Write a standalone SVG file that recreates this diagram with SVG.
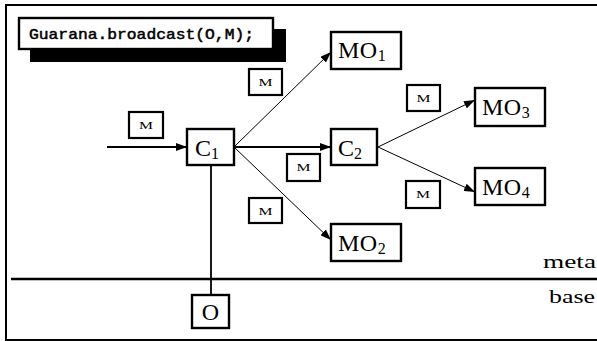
<svg xmlns="http://www.w3.org/2000/svg" width="597" height="341" viewBox="0 0 597 341">
<style>
.box{fill:#fff;stroke:#000;stroke-width:2.4}
.lbl{fill:#fff;stroke:#000;stroke-width:2.2}
.t{font-family:"Liberation Serif","DejaVu Serif",serif;fill:#000}
.big{font-size:24px}
.sub{font-size:16px}
.m{font-size:11px}
.thin{stroke:#000;stroke-width:1;fill:none}
.thick{stroke:#000;stroke-width:1.8;fill:none}
</style>
<defs>
<marker id="ah" markerUnits="userSpaceOnUse" markerWidth="12" markerHeight="8" refX="11" refY="4" orient="auto">
<path d="M0,0 L11,4 L0,8 z" fill="#000"/>
</marker>
</defs>
<rect x="6" y="5" width="600" height="335" fill="#fff" stroke="#000" stroke-width="2"/>
<line x1="11" y1="279" x2="597" y2="279" stroke="#000" stroke-width="2.6"/>
<text class="t" x="596" y="268" font-size="18" text-anchor="end" textLength="53" lengthAdjust="spacingAndGlyphs">meta</text>
<text class="t" x="595" y="303" font-size="18" text-anchor="end" textLength="46" lengthAdjust="spacingAndGlyphs">base</text>

<g id="code">
<rect x="30" y="29" width="256" height="33" fill="#000"/>
<rect class="box" x="19" y="18" width="254" height="31"/>
<text x="29" y="39" font-family="'Liberation Mono','DejaVu Sans Mono',monospace" font-size="15" stroke="#000" stroke-width="0.5" textLength="225" lengthAdjust="spacingAndGlyphs">Guarana.broadcast(O,M);</text>
</g>

<g id="connectors">
<line class="thick" x1="107" y1="147" x2="187" y2="147" marker-end="url(#ah)"/>
<line class="thick" x1="234" y1="147" x2="331" y2="147" marker-end="url(#ah)"/>
<line class="thin" x1="234" y1="147" x2="331" y2="52" marker-end="url(#ah)"/>
<line class="thin" x1="234" y1="147" x2="331" y2="240" marker-end="url(#ah)"/>
<line class="thin" x1="378" y1="147" x2="475" y2="100" marker-end="url(#ah)"/>
<line class="thin" x1="378" y1="147" x2="475" y2="192" marker-end="url(#ah)"/>
<line class="thick" x1="211" y1="165" x2="211" y2="295" stroke-width="2"/>
</g>

<g id="C1">
<rect class="box" x="187" y="129" width="47" height="36"/>
<text class="t big" x="195" y="156">C<tspan class="sub" dy="3">1</tspan></text>
</g>
<g id="C2">
<rect class="box" x="331" y="129" width="46" height="36"/>
<text class="t big" x="338" y="156">C<tspan class="sub" dy="3">2</tspan></text>
</g>
<g id="MO1">
<rect class="box" x="331" y="32" width="70" height="37"/>
<text class="t big" x="338" y="58" letter-spacing="0.5">MO<tspan class="sub" dy="3">1</tspan></text>
</g>
<g id="MO2">
<rect class="box" x="331" y="224" width="70" height="37"/>
<text class="t big" x="338" y="251" letter-spacing="0.5">MO<tspan class="sub" dy="3">2</tspan></text>
</g>
<g id="MO3">
<rect class="box" x="475" y="88" width="70" height="38"/>
<text class="t big" x="482" y="115" letter-spacing="0.5">MO<tspan class="sub" dy="3">3</tspan></text>
</g>
<g id="MO4">
<rect class="box" x="475" y="168" width="70" height="37"/>
<text class="t big" x="482" y="195" letter-spacing="0.5">MO<tspan class="sub" dy="3">4</tspan></text>
</g>
<g id="O">
<rect class="box" x="192" y="295" width="37" height="33"/>
<text class="t big" x="210.5" y="320" text-anchor="middle">O</text>
</g>

<g id="M-in">
<rect class="lbl" x="129" y="112" width="34" height="26"/>
<text class="t m" x="146" y="129" text-anchor="middle" textLength="14" lengthAdjust="spacingAndGlyphs">M</text>
</g>
<g id="M-mo1">
<rect class="lbl" x="249" y="69" width="33" height="26"/>
<text class="t m" x="265.5" y="86" text-anchor="middle" textLength="14" lengthAdjust="spacingAndGlyphs">M</text>
</g>
<g id="M-c2">
<rect class="lbl" x="287" y="154" width="33" height="27"/>
<text class="t m" x="303.5" y="171" text-anchor="middle" textLength="14" lengthAdjust="spacingAndGlyphs">M</text>
</g>
<g id="M-mo2">
<rect class="lbl" x="249" y="198" width="33" height="25"/>
<text class="t m" x="265.5" y="214.5" text-anchor="middle" textLength="14" lengthAdjust="spacingAndGlyphs">M</text>
</g>
<g id="M-mo3">
<rect class="lbl" x="407" y="85" width="33" height="26"/>
<text class="t m" x="423.5" y="102" text-anchor="middle" textLength="14" lengthAdjust="spacingAndGlyphs">M</text>
</g>
<g id="M-mo4">
<rect class="lbl" x="406" y="181" width="34" height="27"/>
<text class="t m" x="423" y="198" text-anchor="middle" textLength="14" lengthAdjust="spacingAndGlyphs">M</text>
</g>
</svg>
